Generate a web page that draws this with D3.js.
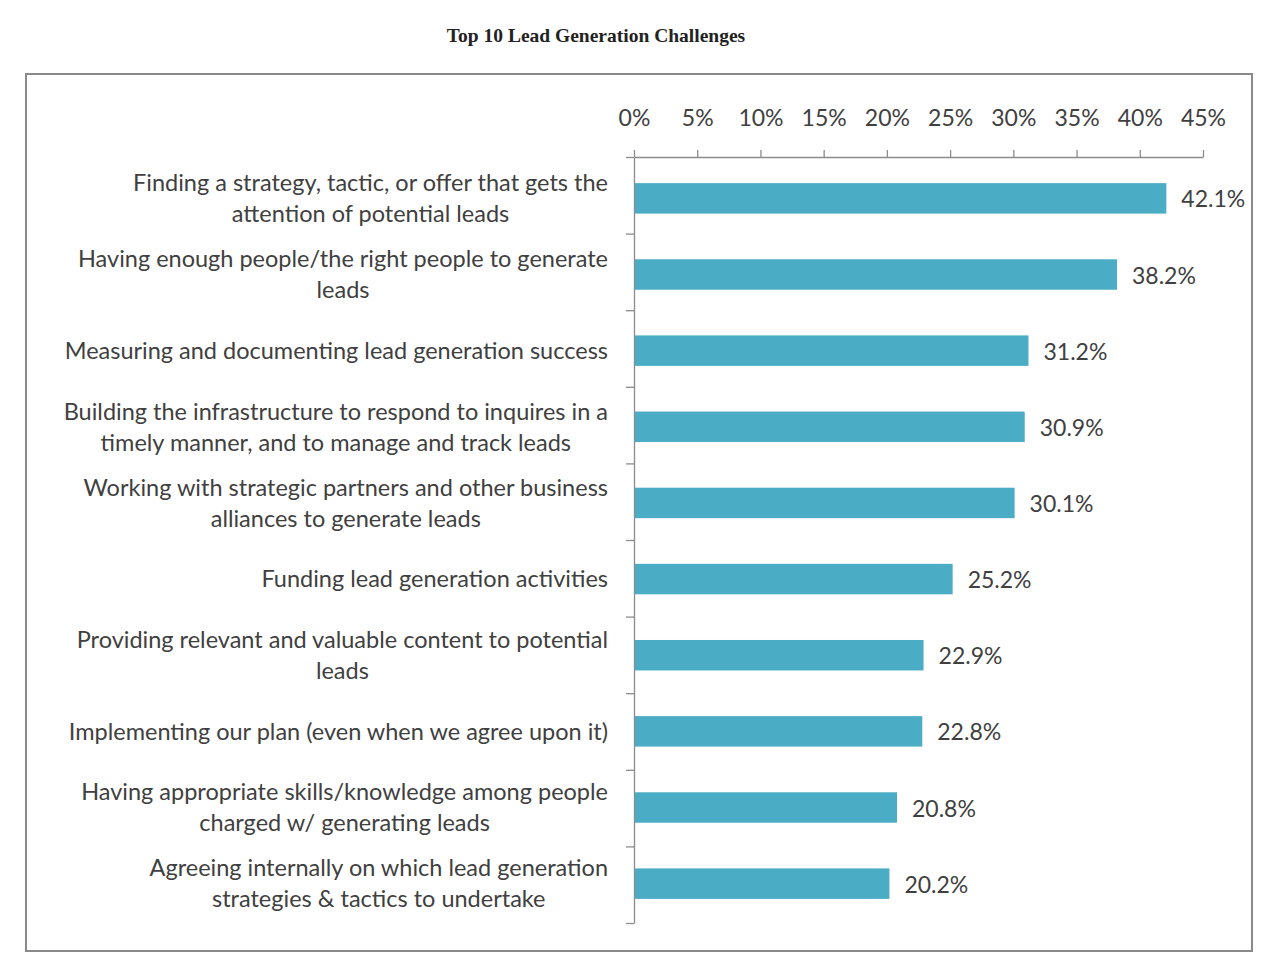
<!DOCTYPE html>
<html>
<head>
<meta charset="utf-8">
<script src="https://cdn.jsdelivr.net/npm/d3@7"></script>
<style>
  body { margin: 0; background: #fff; }
  text { font-family: Lato, 'Open Sans', sans-serif; fill: #404040; }
</style>
</head>
<body>
<div id="chart-area"></div>
<script>
// challenge labels, already split on the line breaks of the original
const categories = [
  ['Finding a strategy, tactic, or offer that gets the', 'attention of potential leads'],
  ['Having enough people/the right people to generate', 'leads'],
  ['Measuring and documenting lead generation success'],
  ['Building the infrastructure to respond to inquires in a', 'timely manner, and to manage and track leads'],
  ['Working with strategic partners and other business', 'alliances to generate leads'],
  ['Funding lead generation activities'],
  ['Providing relevant and valuable content to potential', 'leads'],
  ['Implementing our plan (even when we agree upon it)'],
  ['Having appropriate skills/knowledge among people', 'charged w/ generating leads'],
  ['Agreeing internally on which lead generation', 'strategies & tactics to undertake'],
];
const values = [42.1, 38.2, 31.2, 30.9, 30.1, 25.2, 22.9, 22.8, 20.8, 20.2];
const ticks = [0, 5, 10, 15, 20, 25, 30, 35, 40, 45];

let width = 1284;
let height = 974;
let plot = { left: 634, right: 1203, top: 157, bottom: 923 };

let chart = d3
  .select('#chart-area')
  .append('svg')
  .attr('width', width)
  .attr('height', height);

//frame
chart
  .append('rect')
  .attr('x', 26)
  .attr('y', 74)
  .attr('width', 1226)
  .attr('height', 877)
  .style('fill', 'none')
  .style('stroke', '#8a8a8a')
  .style('stroke-width', 2);

//title
chart
  .append('text')
  .attr('x', 596)
  .attr('y', 42)
  .style('text-anchor', 'middle')
  .style('font-family', "'Liberation Serif', 'DejaVu Serif', serif")
  .style('font-weight', 'bold')
  .style('font-size', '19.5px')
  .style('fill', '#222')
  .text('Top 10 Lead Generation Challenges');

let xScale = d3.scaleLinear().domain([0, 45]).range([plot.left, plot.right]);
let yScale = d3
  .scaleBand()
  .domain(d3.range(categories.length))
  .range([plot.top, plot.bottom])
  .paddingInner(0.6)
  .paddingOuter(0.33);
//boundaries between categories, for the left axis ticks
let yEdges = d3.scaleLinear().domain([0, categories.length]).range([plot.top, plot.bottom]);

//bars
chart
  .append('g')
  .selectAll('rect')
  .data(values)
  .enter()
  .append('rect')
  .attr('x', xScale(0))
  .attr('y', (d, i) => yScale(i) + 1)
  .attr('width', (d) => xScale(d) - xScale(0))
  .attr('height', yScale.bandwidth())
  .style('fill', '#4bacc6');

//value labels
chart
  .append('g')
  .selectAll('text')
  .data(values)
  .enter()
  .append('text')
  .attr('x', (d) => xScale(d) + 15)
  .attr('y', (d, i) => yScale(i) + 2 + yScale.bandwidth() / 2)
  .attr('dy', '0.35em')
  .style('font-size', '23px')
  .text((d) => d.toFixed(1) + '%');

//x axis on top
let xAxis = d3
  .axisTop(xScale)
  .tickValues(ticks)
  .tickSize(7)
  .tickSizeOuter(0)
  .tickPadding(24)
  .tickFormat((d) => d + '%');
let gx = chart.append('g').attr('transform', `translate(0, ${plot.top})`).call(xAxis);
gx.selectAll('text').style('font-size', '23px').style('font-family', null).style('fill', '#404040');

//y axis with ticks between categories
let yAxis = d3
  .axisLeft(yEdges)
  .tickValues(d3.range(categories.length + 1))
  .tickSize(8)
  .tickSizeOuter(0)
  .tickFormat('');
chart.append('g').attr('transform', `translate(${plot.left}, 0)`).call(yAxis);

chart.selectAll('.domain, .tick line').style('stroke', '#8c8c8c').style('stroke-width', 1.3);

//category labels, lines centred on each other and right aligned as a block
let labelRight = 608;
let lineHeight = 31;
let labels = chart
  .append('g')
  .selectAll('g')
  .data(categories)
  .enter()
  .append('g');
labels.each(function (lines, i) {
  let g = d3.select(this);
  let cy = yScale(i) + 1 + yScale.bandwidth() / 2;
  let texts = lines.map((line, k) =>
    g
      .append('text')
      .attr('y', cy + (k - (lines.length - 1) / 2) * lineHeight)
      .attr('dy', '0.35em')
      .style('font-size', '23.5px')
      .style('text-anchor', 'middle')
      .text(line),
  );
  let maxW = d3.max(texts, (t) => t.node().getComputedTextLength());
  texts.forEach((t) => t.attr('x', labelRight - maxW / 2));
});
</script>
</body>
</html>
